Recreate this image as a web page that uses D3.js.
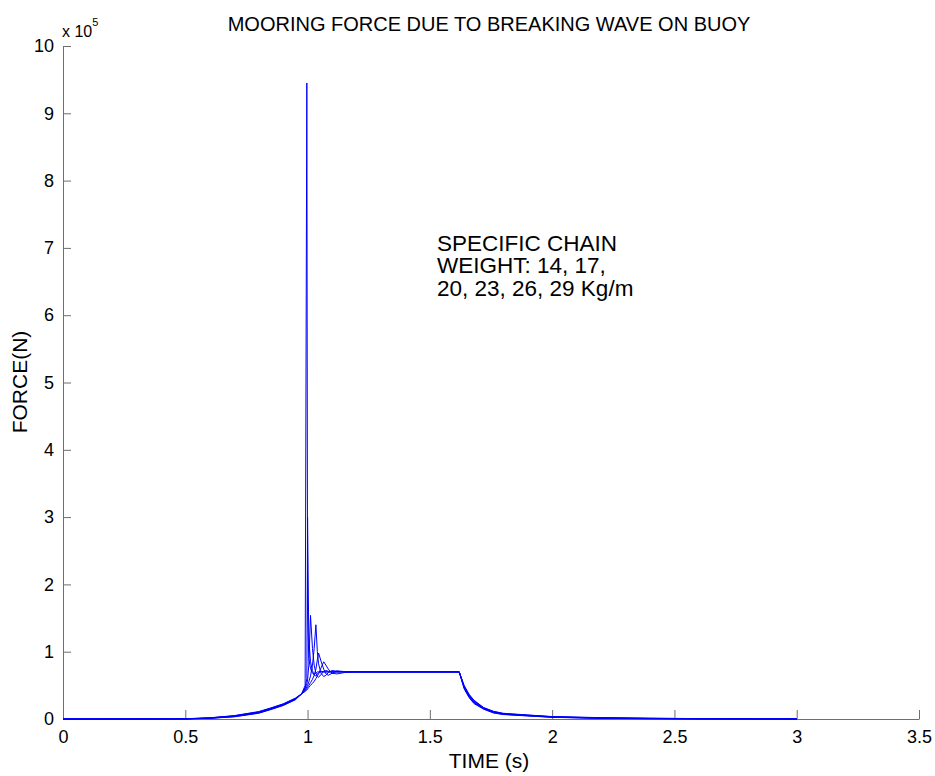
<!DOCTYPE html>
<html>
<head>
<meta charset="utf-8">
<script src="https://cdn.jsdelivr.net/npm/d3@7/dist/d3.min.js"></script>
<style>
  body { margin: 0; background: #fff; }
  text { font-family: "Liberation Sans", Arial, sans-serif; fill: #000; }
</style>
</head>
<body>
<svg id="chart" width="935" height="776"></svg>
<script>
// mooring force data, values in units of 1e5 N
var time = [0, 0.3, 0.5, 0.6, 0.7, 0.8, 0.85, 0.9, 0.95,
  0.976, 0.99, 0.997, 1.0, 1.005, 1.012, 1.02, 1.027, 1.034, 1.04, 1.045, 1.055, 1.066, 1.075, 1.085, 1.1, 1.12, 1.15, 1.2,
  1.62,
  1.64, 1.66, 1.68, 1.72, 1.76, 1.8, 1.9, 2.0, 2.2, 2.4, 2.6, 3.0];

var force14 = [0, 0.001, 0.004, 0.018, 0.05, 0.11, 0.165, 0.225, 0.31,
  0.375, 0.5, 9.45, 1.6, 0.9, 0.75, 0.68, 0.66, 0.68, 0.70, 0.70, 0.70, 0.70, 0.70, 0.70, 0.70, 0.70, 0.70, 0.70,
  0.70,
  0.5, 0.37, 0.28, 0.17, 0.115, 0.085, 0.06, 0.036, 0.02, 0.012, 0.006, 0.002];
var force17 = [0, 0.001, 0.003, 0.016, 0.047, 0.105, 0.16, 0.22, 0.305,
  0.375, 0.47, 0.6, 3.0, 1.2, 0.85, 0.72, 0.65, 0.64, 0.67, 0.69, 0.71, 0.70, 0.70, 0.70, 0.70, 0.70, 0.70, 0.70,
  0.70,
  0.49, 0.36, 0.27, 0.165, 0.11, 0.08, 0.057, 0.034, 0.017, 0.01, 0.005, 0.001];
var force20 = [0, 0.001, 0.003, 0.014, 0.044, 0.1, 0.155, 0.215, 0.3,
  0.375, 0.45, 0.52, 0.58, 0.8, 1.54, 1.05, 0.8, 0.68, 0.63, 0.62, 0.66, 0.71, 0.72, 0.71, 0.70, 0.70, 0.70, 0.70,
  0.70,
  0.48, 0.35, 0.26, 0.16, 0.105, 0.077, 0.054, 0.032, 0.015, 0.008, 0.004, 0.001];
var force23 = [0, 0, 0.002, 0.012, 0.04, 0.095, 0.15, 0.21, 0.295,
  0.375, 0.43, 0.48, 0.5, 0.55, 0.64, 0.8, 1.05, 1.40, 1.0, 0.82, 0.68, 0.63, 0.65, 0.69, 0.72, 0.71, 0.70, 0.70,
  0.70,
  0.47, 0.34, 0.25, 0.155, 0.1, 0.073, 0.051, 0.029, 0.013, 0.007, 0.003, 0.001];
var force26 = [0, 0, 0.002, 0.011, 0.036, 0.09, 0.145, 0.205, 0.29,
  0.375, 0.42, 0.45, 0.47, 0.5, 0.54, 0.59, 0.65, 0.74, 0.88, 0.98, 0.86, 0.74, 0.67, 0.65, 0.68, 0.715, 0.705, 0.70,
  0.70,
  0.46, 0.33, 0.24, 0.15, 0.095, 0.07, 0.048, 0.027, 0.011, 0.005, 0.002, 0];
var force29 = [0, 0, 0.001, 0.01, 0.032, 0.085, 0.14, 0.2, 0.285,
  0.375, 0.41, 0.43, 0.445, 0.47, 0.5, 0.53, 0.56, 0.6, 0.64, 0.67, 0.76, 0.85, 0.8, 0.74, 0.68, 0.67, 0.69, 0.70,
  0.70,
  0.45, 0.32, 0.23, 0.145, 0.09, 0.066, 0.045, 0.025, 0.009, 0.004, 0.001, 0];

var allForces = [force14, force17, force20, force23, force26, force29];

var xTicks = [0, 0.5, 1, 1.5, 2, 2.5, 3, 3.5];
var yTicks = [0, 1, 2, 3, 4, 5, 6, 7, 8, 9, 10];

var titleText = "MOORING FORCE DUE TO BREAKING WAVE ON BUOY";
var noteLines = ["SPECIFIC CHAIN", "WEIGHT: 14, 17,", "20, 23, 26, 29 Kg/m"];

(function() {
	var svg = d3.select("#chart");
	var plotLeft = 63, plotRight = 919, plotTop = 46, plotBottom = 719;
	var axisColor = "#6e6e6e";

	var x = d3.scaleLinear().domain([0, 3.5]).range([plotLeft, plotRight]);
	var y = d3.scaleLinear().domain([0, 10]).range([plotBottom, plotTop]);

	svg.append("rect").attr("width", 935).attr("height", 776).attr("fill", "#fff");

	// axes: left + bottom only, ticks point inward
	var yAxis = svg.append("g")
		.attr("transform", "translate(" + plotLeft + ",0)")
		.call(d3.axisLeft(y).tickValues(yTicks).tickFormat(d3.format("d"))
			.tickSizeInner(-8).tickSizeOuter(0).tickPadding(9));

	var xAxis = svg.append("g")
		.attr("transform", "translate(0," + plotBottom + ")")
		.call(d3.axisBottom(x).tickValues(xTicks).tickFormat(function(d) { return String(d); })
			.tickSizeInner(-9).tickSizeOuter(0).tickPadding(11));

	[yAxis, xAxis].forEach(function(g) {
		g.attr("font-family", null).attr("font-size", null);
		g.select(".domain").attr("stroke", axisColor);
		g.selectAll(".tick line").attr("stroke", axisColor);
		g.selectAll(".tick text").attr("fill", "#000").style("font-size", "18px");
	});

	// curves, one per chain weight
	var line = d3.line()
		.x(function(d, i) { return x(time[i]); })
		.y(function(d) { return y(d); });

	svg.append("g").selectAll("path").data(allForces).enter().append("path")
		.attr("d", line)
		.attr("fill", "none")
		.attr("stroke", "#0000ff")
		.attr("stroke-width", 1)
		.attr("stroke-linejoin", "round");

	// texts
	svg.append("text").attr("x", 489).attr("y", 31)
		.attr("text-anchor", "middle").style("font-size", "20px")
		.text(titleText);

	var exp = svg.append("text").attr("x", 62).attr("y", 37).style("font-size", "16px");
	exp.append("tspan").text("x 10");
	exp.append("tspan").style("font-size", "11px").attr("dy", -11).text("5");

	svg.append("text").attr("x", 489).attr("y", 768)
		.attr("text-anchor", "middle").style("font-size", "21px")
		.text("TIME (s)");

	svg.append("text").attr("transform", "translate(27,382) rotate(-90)")
		.attr("text-anchor", "middle").style("font-size", "21px")
		.text("FORCE(N)");

	svg.append("g").selectAll("text").data(noteLines).enter().append("text")
		.attr("x", 437)
		.attr("y", function(d, i) { return 250.5 + i * 22.8; })
		.style("font-size", "22.5px")
		.text(function(d) { return d; });
})();
</script>
</body>
</html>
